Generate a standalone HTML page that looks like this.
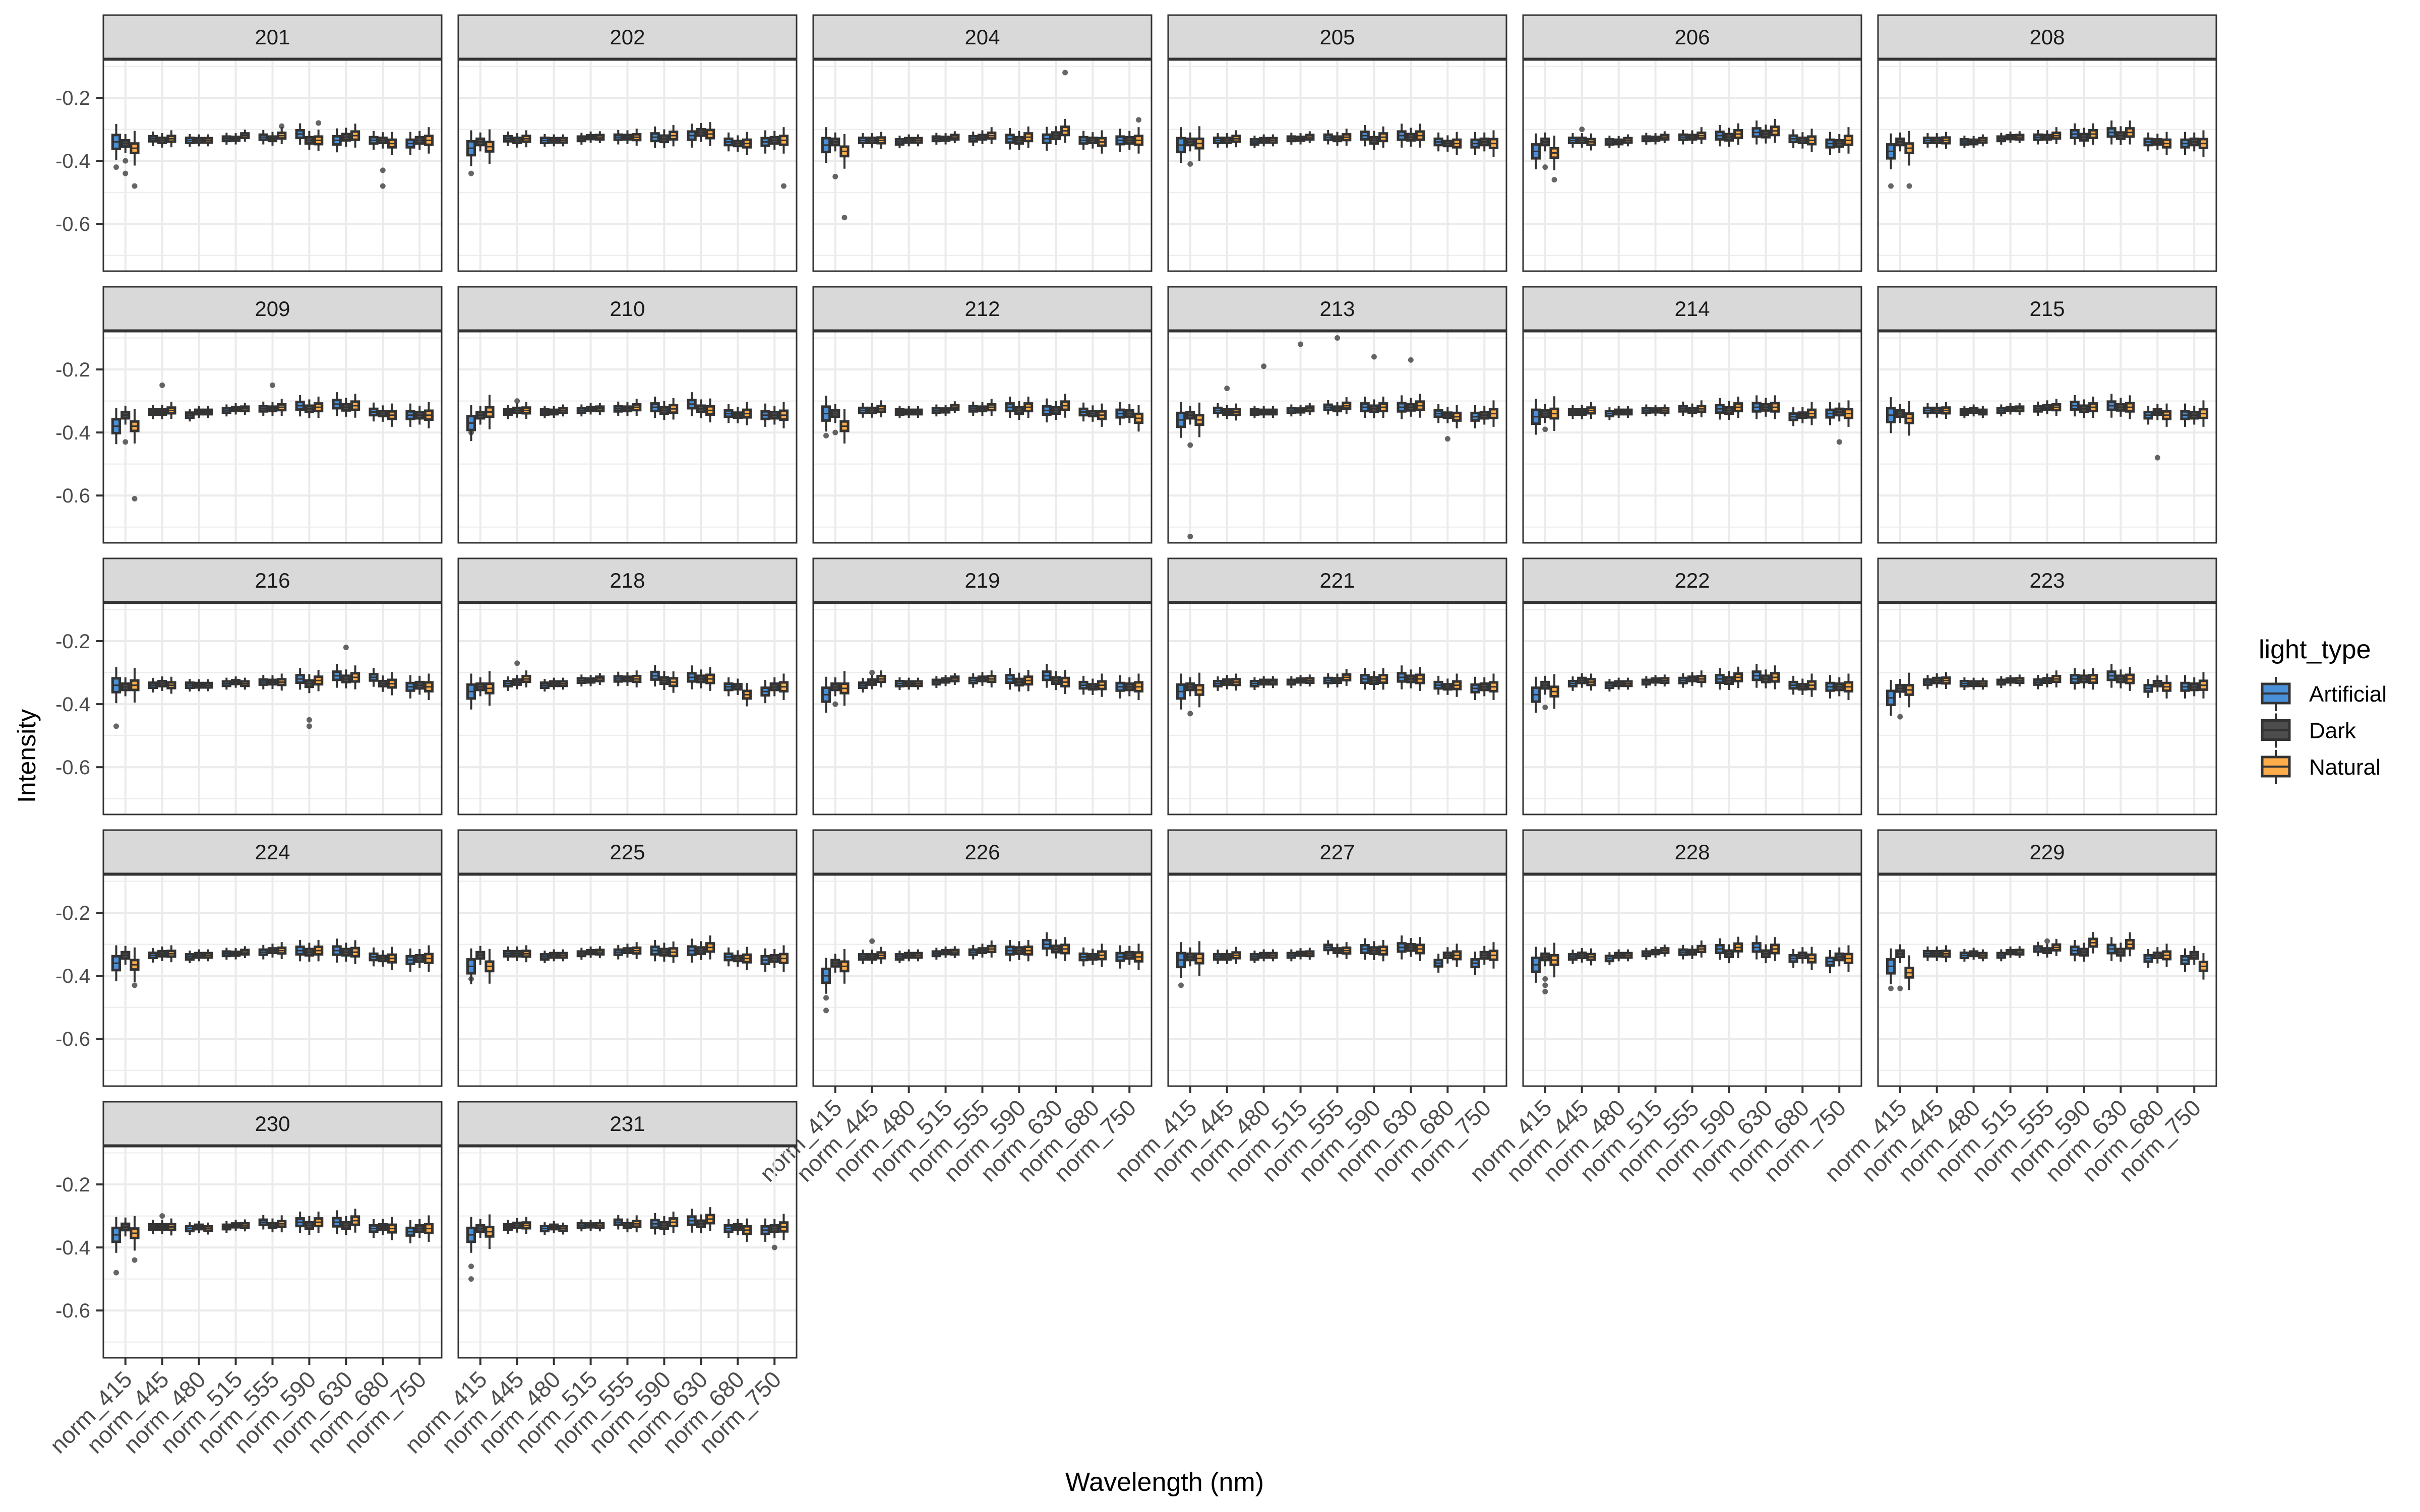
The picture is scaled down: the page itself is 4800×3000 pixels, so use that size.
<!DOCTYPE html>
<html><head><meta charset="utf-8"><style>
html,body{margin:0;padding:0;background:#fff;}
svg{display:block;font-family:"Liberation Sans",Arial,sans-serif;}
</style></head><body>
<svg id="chart" xmlns="http://www.w3.org/2000/svg" width="4800" height="3000" viewBox="0 0 4800 3000">
<rect x="0" y="0" width="4800" height="3000" fill="#fff"/>
<g id="panels"></g>
<text x="70" y="1500" font-size="50" fill="#000" text-anchor="middle" transform="rotate(-90 70 1500)">Intensity</text>
<text x="2310" y="2958" font-size="52" fill="#000" text-anchor="middle">Wavelength (nm)</text>
<g>
<text x="4480" y="1306" font-size="52" fill="#000">light_type</text>
<g id="legendKeys"></g>
</g>
</svg>
<script>
const panelIds=["201","202","204","205","206","208","209","210","212","213","214","215","216","218","219","221","222","223","224","225","226","227","228","229","230","231"];
const wavelengths=["norm_415","norm_445","norm_480","norm_515","norm_555","norm_590","norm_630","norm_680","norm_750"];
const lightTypes=["Artificial","Dark","Natural"];
const yTicks=[-0.2,-0.4,-0.6];
const yTickLabels=["-0.2","-0.4","-0.6"];
const medArtificial=[
[-0.34,-0.33,-0.335,-0.33,-0.325,-0.315,-0.335,-0.335,-0.345],
[-0.36,-0.33,-0.335,-0.33,-0.325,-0.325,-0.32,-0.34,-0.34],
[-0.35,-0.335,-0.34,-0.33,-0.33,-0.33,-0.33,-0.335,-0.335],
[-0.35,-0.335,-0.34,-0.33,-0.325,-0.32,-0.32,-0.34,-0.345],
[-0.37,-0.335,-0.34,-0.33,-0.325,-0.32,-0.31,-0.33,-0.345],
[-0.37,-0.335,-0.34,-0.33,-0.325,-0.315,-0.31,-0.34,-0.345],
[-0.38,-0.335,-0.345,-0.33,-0.325,-0.315,-0.31,-0.335,-0.345],
[-0.37,-0.335,-0.335,-0.33,-0.325,-0.32,-0.31,-0.34,-0.345],
[-0.34,-0.33,-0.335,-0.33,-0.325,-0.32,-0.33,-0.335,-0.34],
[-0.36,-0.33,-0.335,-0.33,-0.32,-0.32,-0.32,-0.34,-0.35],
[-0.35,-0.335,-0.34,-0.33,-0.325,-0.325,-0.32,-0.35,-0.34],
[-0.345,-0.33,-0.335,-0.33,-0.325,-0.315,-0.315,-0.345,-0.345],
[-0.34,-0.34,-0.34,-0.335,-0.33,-0.32,-0.31,-0.315,-0.345],
[-0.36,-0.335,-0.34,-0.325,-0.32,-0.31,-0.315,-0.345,-0.36],
[-0.37,-0.34,-0.335,-0.33,-0.325,-0.32,-0.31,-0.34,-0.345],
[-0.36,-0.335,-0.335,-0.33,-0.325,-0.32,-0.315,-0.34,-0.35],
[-0.37,-0.335,-0.34,-0.33,-0.325,-0.32,-0.31,-0.34,-0.345],
[-0.38,-0.33,-0.335,-0.33,-0.33,-0.32,-0.31,-0.35,-0.345],
[-0.36,-0.335,-0.34,-0.33,-0.325,-0.32,-0.32,-0.34,-0.35],
[-0.37,-0.33,-0.34,-0.33,-0.325,-0.32,-0.32,-0.34,-0.35],
[-0.40,-0.34,-0.34,-0.33,-0.325,-0.32,-0.30,-0.34,-0.34],
[-0.35,-0.34,-0.34,-0.335,-0.31,-0.315,-0.31,-0.36,-0.36],
[-0.365,-0.34,-0.345,-0.33,-0.325,-0.315,-0.31,-0.345,-0.355],
[-0.37,-0.33,-0.335,-0.335,-0.315,-0.32,-0.315,-0.345,-0.35],
[-0.36,-0.335,-0.34,-0.335,-0.32,-0.32,-0.32,-0.34,-0.35],
[-0.36,-0.335,-0.34,-0.33,-0.32,-0.325,-0.315,-0.34,-0.345]];
const medDark=[
[-0.345,-0.335,-0.335,-0.33,-0.33,-0.335,-0.325,-0.335,-0.335],
[-0.34,-0.335,-0.335,-0.325,-0.325,-0.33,-0.31,-0.345,-0.335],
[-0.34,-0.335,-0.335,-0.33,-0.325,-0.335,-0.32,-0.335,-0.335],
[-0.34,-0.335,-0.335,-0.33,-0.33,-0.335,-0.325,-0.345,-0.34],
[-0.34,-0.335,-0.34,-0.33,-0.325,-0.325,-0.315,-0.335,-0.345],
[-0.34,-0.335,-0.34,-0.325,-0.325,-0.325,-0.32,-0.34,-0.34],
[-0.345,-0.335,-0.335,-0.325,-0.325,-0.325,-0.32,-0.34,-0.345],
[-0.345,-0.33,-0.335,-0.325,-0.325,-0.33,-0.325,-0.345,-0.345],
[-0.34,-0.33,-0.335,-0.33,-0.325,-0.33,-0.33,-0.34,-0.34],
[-0.345,-0.335,-0.335,-0.33,-0.325,-0.325,-0.32,-0.345,-0.345],
[-0.34,-0.335,-0.335,-0.33,-0.33,-0.33,-0.32,-0.345,-0.335],
[-0.34,-0.33,-0.33,-0.325,-0.32,-0.325,-0.32,-0.335,-0.345],
[-0.345,-0.335,-0.34,-0.33,-0.33,-0.335,-0.32,-0.335,-0.34],
[-0.345,-0.33,-0.335,-0.325,-0.32,-0.325,-0.32,-0.345,-0.345],
[-0.345,-0.33,-0.335,-0.325,-0.32,-0.33,-0.325,-0.345,-0.345],
[-0.345,-0.33,-0.33,-0.325,-0.325,-0.325,-0.32,-0.345,-0.345],
[-0.34,-0.325,-0.335,-0.325,-0.32,-0.325,-0.32,-0.345,-0.345],
[-0.35,-0.325,-0.335,-0.325,-0.325,-0.32,-0.32,-0.335,-0.345],
[-0.335,-0.33,-0.335,-0.33,-0.32,-0.325,-0.325,-0.345,-0.345],
[-0.335,-0.33,-0.335,-0.325,-0.32,-0.325,-0.32,-0.345,-0.345],
[-0.36,-0.34,-0.335,-0.325,-0.32,-0.32,-0.315,-0.34,-0.335],
[-0.34,-0.34,-0.335,-0.33,-0.32,-0.32,-0.31,-0.335,-0.335],
[-0.34,-0.335,-0.335,-0.325,-0.325,-0.33,-0.33,-0.335,-0.34],
[-0.33,-0.33,-0.33,-0.325,-0.32,-0.325,-0.325,-0.335,-0.335],
[-0.335,-0.335,-0.335,-0.33,-0.33,-0.33,-0.33,-0.335,-0.34],
[-0.34,-0.33,-0.335,-0.33,-0.33,-0.33,-0.325,-0.335,-0.34]];
const medNatural=[
[-0.36,-0.33,-0.335,-0.32,-0.32,-0.335,-0.32,-0.345,-0.335],
[-0.355,-0.33,-0.335,-0.325,-0.325,-0.32,-0.315,-0.345,-0.335],
[-0.37,-0.335,-0.335,-0.325,-0.32,-0.325,-0.305,-0.34,-0.335],
[-0.345,-0.33,-0.335,-0.325,-0.325,-0.325,-0.32,-0.345,-0.345],
[-0.375,-0.34,-0.335,-0.325,-0.32,-0.315,-0.305,-0.335,-0.335],
[-0.36,-0.335,-0.335,-0.325,-0.32,-0.315,-0.31,-0.345,-0.345],
[-0.38,-0.33,-0.335,-0.325,-0.32,-0.32,-0.315,-0.345,-0.345],
[-0.335,-0.33,-0.33,-0.325,-0.32,-0.325,-0.33,-0.34,-0.345],
[-0.38,-0.325,-0.335,-0.32,-0.32,-0.32,-0.315,-0.345,-0.355],
[-0.36,-0.335,-0.335,-0.325,-0.315,-0.32,-0.315,-0.35,-0.34],
[-0.34,-0.33,-0.335,-0.33,-0.325,-0.32,-0.32,-0.34,-0.34],
[-0.355,-0.33,-0.335,-0.325,-0.32,-0.32,-0.32,-0.345,-0.34],
[-0.34,-0.34,-0.34,-0.335,-0.33,-0.325,-0.315,-0.335,-0.345],
[-0.35,-0.32,-0.335,-0.32,-0.32,-0.33,-0.32,-0.37,-0.345],
[-0.35,-0.32,-0.335,-0.32,-0.32,-0.325,-0.33,-0.34,-0.345],
[-0.355,-0.33,-0.33,-0.325,-0.315,-0.32,-0.32,-0.34,-0.345],
[-0.36,-0.33,-0.335,-0.325,-0.32,-0.315,-0.315,-0.34,-0.345],
[-0.355,-0.325,-0.335,-0.325,-0.32,-0.32,-0.32,-0.345,-0.34],
[-0.365,-0.33,-0.335,-0.325,-0.32,-0.32,-0.325,-0.345,-0.345],
[-0.37,-0.33,-0.335,-0.325,-0.32,-0.325,-0.31,-0.345,-0.345],
[-0.37,-0.335,-0.335,-0.325,-0.315,-0.32,-0.315,-0.335,-0.34],
[-0.345,-0.335,-0.335,-0.33,-0.32,-0.32,-0.315,-0.335,-0.335],
[-0.35,-0.34,-0.335,-0.32,-0.315,-0.31,-0.315,-0.345,-0.345],
[-0.39,-0.33,-0.335,-0.325,-0.31,-0.295,-0.30,-0.335,-0.37],
[-0.355,-0.335,-0.34,-0.33,-0.325,-0.32,-0.315,-0.34,-0.34],
[-0.35,-0.33,-0.34,-0.33,-0.325,-0.32,-0.31,-0.345,-0.335]];
const halfIqrArtificial=[0.022,0.008,0.008,0.007,0.008,0.012,0.013,0.01,0.012];
const halfIqrDark=[0.01,0.008,0.007,0.006,0.007,0.01,0.01,0.008,0.01];
const halfIqrNatural=[0.015,0.009,0.007,0.007,0.009,0.012,0.013,0.012,0.014];
const whiskerArtificial=[0.035,0.015,0.012,0.012,0.015,0.022,0.025,0.02,0.025];
const whiskerDark=[0.02,0.015,0.012,0.012,0.015,0.02,0.02,0.018,0.02];
const whiskerNatural=[0.04,0.018,0.012,0.012,0.018,0.022,0.025,0.025,0.028];
const outPanel=[0,0,0,0,0,0,0,0,1,1,2,2,2,2,3,4,4,4,5,5,6,6,6,6,7,7,8,8,9,9,9,9,9,9,9,9,9,10,10,11,12,12,12,12,13,14,14,15,16,17,18,19,20,20,20,21,22,22,22,23,23,23,24,24,24,25,25,25];
const outWl=[0,0,0,0,4,5,7,7,0,8,0,0,6,8,0,0,0,1,0,0,0,0,1,4,0,1,0,0,0,0,1,2,3,4,5,6,7,8,0,7,0,5,5,6,1,0,1,0,0,0,0,0,0,0,1,0,0,0,0,0,0,4,0,0,1,0,0,8];
const outType=[0,1,1,2,2,2,1,1,0,2,1,2,2,2,1,1,2,1,0,2,1,2,1,1,0,1,0,1,1,1,1,1,1,1,1,1,1,1,1,1,0,1,1,1,1,1,1,1,1,1,2,0,0,0,1,0,1,1,1,1,0,1,0,2,1,0,0,1];
const outVal=[-0.42,-0.44,-0.40,-0.48,-0.29,-0.28,-0.43,-0.48,-0.44,-0.48,-0.45,-0.58,-0.12,-0.27,-0.41,-0.42,-0.46,-0.30,-0.48,-0.48,-0.43,-0.61,-0.25,-0.25,-0.40,-0.30,-0.41,-0.40,-0.44,-0.73,-0.26,-0.19,-0.12,-0.10,-0.16,-0.17,-0.42,-0.43,-0.39,-0.48,-0.47,-0.45,-0.47,-0.22,-0.27,-0.40,-0.30,-0.43,-0.41,-0.44,-0.43,-0.41,-0.47,-0.51,-0.29,-0.43,-0.45,-0.43,-0.41,-0.44,-0.44,-0.29,-0.48,-0.44,-0.30,-0.50,-0.46,-0.40];

const NS="http://www.w3.org/2000/svg";
const fills=["#4A90D9","#4D4D4D","#FFAD4A"];
const meds=[medArtificial,medDark,medNatural];
const halfs=[halfIqrArtificial,halfIqrDark,halfIqrNatural];
const whisks=[whiskerArtificial,whiskerDark,whiskerNatural];
const PX0=205,PW=671,PITCHX=704,PITCHY=539,STRIP_TOP=30,STRIP_H=86,PLOT_TOP=119,PLOT_H=419;
const YMIN=-0.75,YMAX=-0.08;
function yScale(v,row){return row*PITCHY+PLOT_TOP+(YMAX-v)/(YMAX-YMIN)*PLOT_H;}
function xScale(i,col){const u=PW/9.2;return PX0+col*PITCHX+(0.6+i)*u;}
function mk(tag,attrs,parent){const e=document.createElementNS(NS,tag);for(const k in attrs)e.setAttribute(k,attrs[k]);parent.appendChild(e);return e;}
const root=document.getElementById('panels');
const nCols=6;
panelIds.forEach((pid,p)=>{
  const row=Math.floor(p/nCols),col=p%nCols;
  const g=mk('g',{},root);
  
  
  const x0=PX0+col*PITCHX,top=row*PITCHY+PLOT_TOP,bottom=top+PLOT_H;
  const st=mk('rect',{x:x0,y:row*PITCHY+STRIP_TOP,width:PW,height:STRIP_H,fill:'#D9D9D9',stroke:'#333','stroke-width':3},g);
  
  
  const stt=mk('text',{x:x0+PW/2,y:row*PITCHY+STRIP_TOP+58,'font-size':42,fill:'#1A1A1A','text-anchor':'middle'},g);
  stt.textContent=pid;
  
  
  [-0.1,-0.3,-0.5,-0.7].forEach(v=>{mk('line',{x1:x0,x2:x0+PW,y1:yScale(v,row),y2:yScale(v,row),stroke:'#EBEBEB','stroke-width':2},g);});
  yTicks.forEach(v=>{mk('line',{x1:x0,x2:x0+PW,y1:yScale(v,row),y2:yScale(v,row),stroke:'#EBEBEB','stroke-width':4},g);});
  wavelengths.forEach((w,i)=>{mk('line',{x1:xScale(i,col),x2:xScale(i,col),y1:top,y2:bottom,stroke:'#EBEBEB','stroke-width':4},g);});
  const u=PW/9.2,bw=u*0.75/3;
  wavelengths.forEach((w,i)=>{
    for(let t=0;t<3;t++){
      const cx=xScale(i,col)+(t-1)*bw;
      const m=meds[t][p][i],h=halfs[t][i],wk=whisks[t][i];
      const q1=m-h,q3=m+h;
      const bg=mk('g',{},g);
      
      
      mk('line',{x1:cx,x2:cx,y1:yScale(q3+wk,row),y2:yScale(q1-wk,row),stroke:'#333','stroke-width':4},bg);
      const yt=yScale(q3,row),yb=yScale(q1,row);
      mk('rect',{x:cx-bw/2+2,y:yt,width:bw-4,height:Math.max(yb-yt,3),fill:fills[t],stroke:'#333','stroke-width':5},bg);
      mk('line',{x1:cx-bw/2+2,x2:cx+bw/2-2,y1:yScale(m,row),y2:yScale(m,row),stroke:'#333','stroke-width':3},bg);
    }
  });
  outPanel.forEach((pp,k)=>{
    if(pp!==p)return;
    const cx=xScale(outWl[k],col)+(outType[k]-1)*bw;
    const c=mk('circle',{cx:cx,cy:yScale(outVal[k],row),r:5.5,fill:'#333','fill-opacity':0.75},g);
    
    
  });
  const fr=mk('rect',{x:x0,y:top,width:PW,height:PLOT_H,fill:'none',stroke:'#333','stroke-width':3},g);
  
  
  if(col===0){
    yTicks.forEach((v,k)=>{
      mk('line',{x1:x0-14,x2:x0,y1:yScale(v,row),y2:yScale(v,row),stroke:'#333','stroke-width':4},g);
      const tt=mk('text',{x:x0-26,y:yScale(v,row)+14,'font-size':40,fill:'#4D4D4D','text-anchor':'end'},g);
      tt.textContent=yTickLabels[k];
      
      
    });
  }
  const lastRowForCol=Math.floor((panelIds.length-1-col)/nCols);
  if(row===lastRowForCol){
    wavelengths.forEach((w,i)=>{
      const x=xScale(i,col);
      mk('line',{x1:x,x2:x,y1:bottom,y2:bottom+14,stroke:'#333','stroke-width':4},g);
      const tx=x+16,ty=bottom+46;
      const tt=mk('text',{x:tx,y:ty,'font-size':46,fill:'#4D4D4D','text-anchor':'end',transform:'rotate(-45 '+tx+' '+ty+')'},g);
      tt.textContent=w;
      
      
    });
  }
});
const lg=document.getElementById('legendKeys');
lightTypes.forEach((lt,t)=>{
  const y0=1357+t*72.5;
  const kg=mk('g',{},lg);
  
  
  mk('line',{x1:4514,x2:4514,y1:y0-14,y2:y0+54,stroke:'#333','stroke-width':4},kg);
  mk('rect',{x:4487,y:y0,width:54,height:38,fill:fills[t],stroke:'#333','stroke-width':5},kg);
  mk('line',{x1:4487,x2:4541,y1:y0+19,y2:y0+19,stroke:'#333','stroke-width':4},kg);
  const tx=mk('text',{x:4580,y:y0+35,'font-size':44,fill:'#000'},kg);
  tx.textContent=lt;
});
</script>
</body></html>
